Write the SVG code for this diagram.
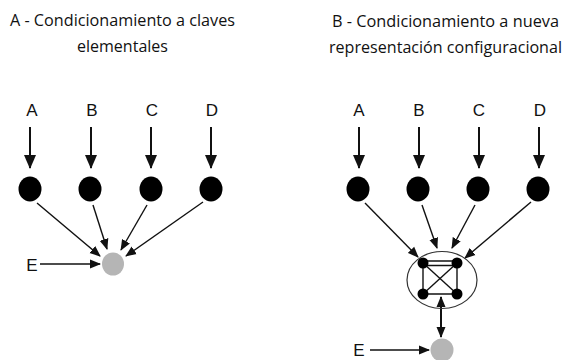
<svg xmlns="http://www.w3.org/2000/svg" width="564" height="360" viewBox="0 0 564 360">
  <defs>
    <style>
      .title { font-family: "Open Sans", "Liberation Sans", sans-serif; font-size: 15.5px; fill: #111; text-anchor: middle; }
      .lbl { font-family: "Liberation Sans", Arial, sans-serif; font-size: 17px; fill: #111; text-anchor: middle; }
      .cue { fill: #000; }
      .out { fill: #b5b5b5; }
      .big { stroke: #111; stroke-width: 2; fill: none; marker-end: url(#headBig); }
      .thin { stroke: #111; stroke-width: 1.4; fill: none; marker-end: url(#headSmall); }
      .edge { stroke: #111; stroke-width: 1.4; fill: none; }
    </style>
    <marker id="headBig" markerUnits="userSpaceOnUse" markerWidth="14" markerHeight="14" viewBox="0 0 14 12" refX="13" refY="6" orient="auto">
      <path d="M0,0 L14,6 L0,12 z" fill="#111"/>
    </marker>
    <marker id="headSmall" markerUnits="userSpaceOnUse" markerWidth="11" markerHeight="10" viewBox="0 0 11 9" refX="10" refY="4.5" orient="auto">
      <path d="M0,0 L11,4.5 L0,9 z" fill="#111"/>
    </marker>
    <marker id="headStart" markerUnits="userSpaceOnUse" markerWidth="11" markerHeight="10" viewBox="0 0 11 9" refX="10" refY="4.5" orient="auto-start-reverse">
      <path d="M0,0 L11,4.5 L0,9 z" fill="#111"/>
    </marker>
  </defs>

  <rect width="564" height="360" fill="#fff"/>

  <!-- Panel titles -->
  <g id="title-a">
    <text class="title" x="122.5" y="26" textLength="225" lengthAdjust="spacingAndGlyphs">A - Condicionamiento a claves</text>
    <text class="title" x="122.5" y="52" textLength="91" lengthAdjust="spacingAndGlyphs">elementales</text>
  </g>
  <g id="title-b">
    <text class="title" x="445.5" y="27" textLength="227" lengthAdjust="spacingAndGlyphs">B - Condicionamiento a nueva</text>
    <text class="title" x="445.5" y="53" textLength="233" lengthAdjust="spacingAndGlyphs">representación configuracional</text>
  </g>

  <!-- Connectors -->
  <g id="connectors">
    <!-- Panel A -->
    <line class="big" x1="30" y1="127" x2="30" y2="168"/>
    <line class="big" x1="91" y1="127" x2="91" y2="168"/>
    <line class="big" x1="151" y1="127" x2="151" y2="168"/>
    <line class="big" x1="211" y1="127" x2="211" y2="168"/>
    <line class="thin" x1="37" y1="203" x2="100" y2="256"/>
    <line class="thin" x1="93" y1="205" x2="107" y2="249"/>
    <line class="thin" x1="147" y1="205" x2="121" y2="250"/>
    <line class="thin" x1="203" y1="202" x2="126" y2="256"/>
    <line class="thin" x1="40" y1="264" x2="100" y2="264"/>
    <!-- Panel B -->
    <line class="big" x1="359" y1="127" x2="359" y2="168"/>
    <line class="big" x1="419" y1="127" x2="419" y2="168"/>
    <line class="big" x1="479" y1="127" x2="479" y2="168"/>
    <line class="big" x1="539" y1="127" x2="539" y2="168"/>
    <line class="thin" x1="365" y1="203" x2="418" y2="257"/>
    <line class="thin" x1="422" y1="205" x2="437" y2="248"/>
    <line class="thin" x1="475" y1="205" x2="452" y2="248"/>
    <line class="thin" x1="531" y1="202" x2="465" y2="258"/>
    <line x1="441" y1="297" x2="441" y2="337" stroke="#111" stroke-width="2" marker-start="url(#headStart)" marker-end="url(#headSmall)"/>
    <line class="thin" x1="370" y1="350" x2="429" y2="350"/>
  </g>

  <!-- Panel A nodes -->
  <g id="a-label-a"><text class="lbl" x="32" y="116">A</text></g>
  <g id="a-label-b"><text class="lbl" x="92" y="116">B</text></g>
  <g id="a-label-c"><text class="lbl" x="152" y="116">C</text></g>
  <g id="a-label-d"><text class="lbl" x="212" y="116">D</text></g>
  <g id="a-node-a"><ellipse class="cue" cx="30" cy="189" rx="11.5" ry="12.5"/></g>
  <g id="a-node-b"><ellipse class="cue" cx="90" cy="189" rx="11.5" ry="12.5"/></g>
  <g id="a-node-c"><ellipse class="cue" cx="151" cy="189" rx="11.5" ry="12.5"/></g>
  <g id="a-node-d"><ellipse class="cue" cx="211" cy="189" rx="11.5" ry="12.5"/></g>
  <g id="a-node-e"><ellipse class="out" cx="113" cy="264" rx="11" ry="11.5"/></g>
  <g id="a-label-e"><text class="lbl" x="32" y="271">E</text></g>

  <!-- Panel B nodes -->
  <g id="b-label-a"><text class="lbl" x="359" y="116">A</text></g>
  <g id="b-label-b"><text class="lbl" x="419" y="116">B</text></g>
  <g id="b-label-c"><text class="lbl" x="479" y="116">C</text></g>
  <g id="b-label-d"><text class="lbl" x="540" y="116">D</text></g>
  <g id="b-node-a"><ellipse class="cue" cx="358" cy="189" rx="11.5" ry="12.5"/></g>
  <g id="b-node-b"><ellipse class="cue" cx="418" cy="189" rx="11.5" ry="12.5"/></g>
  <g id="b-node-c"><ellipse class="cue" cx="478" cy="189" rx="11.5" ry="12.5"/></g>
  <g id="b-node-d"><ellipse class="cue" cx="538" cy="189" rx="11.5" ry="12.5"/></g>

  <!-- Configural unit: ring around four linked elements -->
  <g id="b-config">
    <ellipse cx="442" cy="280" rx="35" ry="28.5" fill="none" stroke="#333" stroke-width="1.2"/>
    <line class="edge" x1="423" y1="261" x2="457" y2="261" stroke-width="1.6"/>
    <line class="edge" x1="423" y1="265.5" x2="457" y2="265.5" stroke-width="1.6"/>
    <line class="edge" x1="423" y1="294" x2="457" y2="294" stroke-width="2.2"/>
    <line class="edge" x1="423" y1="263" x2="423" y2="294"/>
    <line class="edge" x1="457" y1="263" x2="457" y2="294"/>
    <line class="edge" x1="423" y1="263" x2="457" y2="294" stroke-width="1.1"/>
    <line class="edge" x1="457" y1="263" x2="423" y2="294" stroke-width="1.1"/>
    <circle class="cue" cx="423" cy="263" r="5.5"/>
    <circle class="cue" cx="457" cy="263" r="5.5"/>
    <circle class="cue" cx="423" cy="294" r="5.5"/>
    <circle class="cue" cx="457" cy="294" r="5.5"/>
  </g>
  <g id="b-node-e"><ellipse class="out" cx="442" cy="350" rx="11.5" ry="11.5"/></g>
  <g id="b-label-e"><text class="lbl" x="359" y="356">E</text></g>
</svg>
